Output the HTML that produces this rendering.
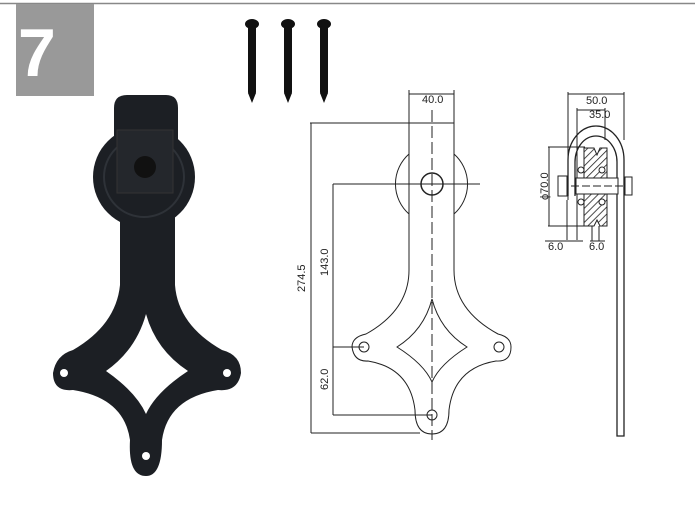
<!DOCTYPE html>
<html><head><style>html,body{margin:0;padding:0;background:#fff}svg{display:block}</style></head>
<body>
<svg width="695" height="519" viewBox="0 0 695 519" xmlns="http://www.w3.org/2000/svg">
<rect width="695" height="519" fill="#fff"/>
<line x1="0" y1="3.5" x2="695" y2="3.5" stroke="#888" stroke-width="1.5"/>
<rect x="16" y="4" width="78" height="92" fill="#999"/>
<text x="18" y="76" font-family="Liberation Sans, sans-serif" font-weight="bold" font-size="68" fill="#fff">7</text>
<!-- screws -->
<g fill="#111">
<g id="s"><ellipse cx="252" cy="24" rx="7" ry="5"/><rect x="248" y="26" width="8" height="68" rx="2"/><path d="M248,93 L252,103 L256,93Z"/></g>
<use href="#s" x="36"/><use href="#s" x="72"/>
</g>
<!-- black hardware -->
<g fill="#1c1f24">
<circle cx="144" cy="177" r="51"/>
<path d="M114,108 Q114,95 127,95 H166 Q178,95 178,108 V200 H114Z"/>
<path d="M120,200 H175 V285 Q178,325 222,350 Q241,355 241,373 Q238,392 218,390 Q168,398 162,440 Q162,476 146,476 Q128,476 130,440 Q124,398 73,390 Q53,392 53,373 Q56,355 73,350 Q116,325 120,285Z"/>
</g>
<circle cx="144" cy="177" r="40" fill="none" stroke="#2e3238" stroke-width="2"/>
<rect x="117" y="130" width="56" height="63" fill="#24272c" stroke="#333" stroke-width="1"/>
<circle cx="145" cy="167" r="11" fill="#111"/>
<path d="M146,314 Q156,350 188,371 Q156,392 146,414 Q136,392 106,371 Q136,350 146,314Z" fill="#fff"/>
<circle cx="64" cy="373" r="4" fill="#fff"/><circle cx="227" cy="373" r="4" fill="#fff"/><circle cx="146" cy="456" r="4" fill="#fff"/>
<!-- front drawing -->
<g fill="none" stroke="#222" stroke-width="1">
<line x1="409" y1="90" x2="409" y2="123"/><line x1="454" y1="90" x2="454" y2="123"/>
<line x1="409" y1="94" x2="454" y2="94"/>
<line x1="310" y1="123" x2="454" y2="123"/>
<line x1="311" y1="123" x2="311" y2="433"/>
<line x1="311" y1="433" x2="420" y2="433"/>
<line x1="333" y1="184" x2="480" y2="184"/>
<line x1="333" y1="184" x2="333" y2="415"/>
<line x1="333" y1="415" x2="432" y2="415"/>
<line x1="333" y1="347" x2="364" y2="347"/>
<path d="M409,154 A40,40 0 0 0 409,214"/><path d="M454,154 A40,40 0 0 1 454,214"/>
<circle cx="432" cy="184" r="11" stroke-width="1.5"/>
<path d="M409,123 V270 Q409,310 366,334 Q352,337 352,347 Q354,362 368,361 Q410,368 415,410 Q415,434 432,434 Q449,434 449,410 Q454,368 496,361 Q511,362 511,347 Q511,337 498,334 Q454,310 454,270 V123"/>
<path d="M432,299 Q440,330 467,347 Q440,364 432,382 Q424,364 397,347 Q424,330 432,299Z"/>
<circle cx="364" cy="347" r="5"/><circle cx="499" cy="347" r="5"/><circle cx="432" cy="415" r="5"/>
<line x1="432" y1="110" x2="432" y2="440" stroke-dasharray="12,4"/>
</g>
<g font-family="Liberation Sans Narrow, Liberation Sans, sans-serif" font-size="11" fill="#222">
<text x="422" y="103">40.0</text>
<text transform="translate(305,292) rotate(-90)">274.5</text>
<text transform="translate(328,276) rotate(-90)">143.0</text>
<text transform="translate(328,390) rotate(-90)">62.0</text>
<text x="586" y="104">50.0</text>
<text x="589" y="118">35.0</text>
<text transform="translate(548,200) rotate(-90)">ϕ70.0</text>
<text x="548" y="250">6.0</text>
<text x="589" y="250">6.0</text>
</g>
<!-- side view -->
<g fill="none" stroke="#222" stroke-width="1">
<line x1="568" y1="92" x2="568" y2="200"/><line x1="624" y1="92" x2="624" y2="140"/>
<line x1="568" y1="94" x2="624" y2="94"/>
<line x1="577" y1="108" x2="577" y2="240"/><line x1="605" y1="108" x2="605" y2="140"/>
<line x1="577" y1="110" x2="605" y2="110"/>
<path d="M568,196 V160 A28,34 0 0 1 624,160 V436 H617 V162 A21,26 0 0 0 575,162 V196" stroke-width="1.3"/>
<line x1="548" y1="147" x2="585" y2="147"/><line x1="548" y1="226" x2="585" y2="226"/>
<line x1="549" y1="147" x2="549" y2="226"/>
<line x1="567" y1="240" x2="567" y2="200"/>
<line x1="545" y1="241" x2="583" y2="241"/><line x1="590" y1="241" x2="605" y2="241"/>
<line x1="592" y1="226" x2="592" y2="241"/><line x1="599" y1="226" x2="599" y2="241"/>
</g>
<defs><pattern id="h" width="5" height="5" patternUnits="userSpaceOnUse" patternTransform="rotate(45)"><line x1="0" y1="0" x2="0" y2="5" stroke="#222" stroke-width="1.6"/></pattern></defs>
<path d="M584,148 H594 L597,155 L600,148 H607 V226 H600 L597,220 L594,226 H584Z" fill="url(#h)" stroke="#222"/>
<rect x="576" y="178" width="42" height="16" fill="#fff" stroke="#222"/>
<line x1="560" y1="186" x2="632" y2="186" stroke="#222" stroke-dasharray="8,3"/>
<rect x="558" y="176" width="9" height="20" fill="#fff" stroke="#222"/>
<rect x="625" y="177" width="7" height="18" fill="#fff" stroke="#222"/>
<g fill="#fff" stroke="#222"><circle cx="581" cy="170" r="3"/><circle cx="602" cy="170" r="3"/><circle cx="581" cy="202" r="3"/><circle cx="602" cy="202" r="3"/></g>
</svg>
</body></html>
